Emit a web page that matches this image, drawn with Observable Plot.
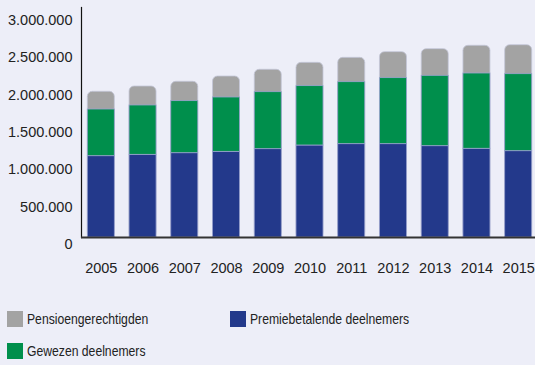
<!DOCTYPE html>
<html>
<head>
<meta charset="utf-8">
<script src="https://cdn.jsdelivr.net/npm/d3@7"></script>
<script src="https://cdn.jsdelivr.net/npm/@observablehq/plot@0.6"></script>
<style>
  html, body { margin: 0; padding: 0; background: #edeef8; }
  #wrap { position: relative; width: 535px; height: 365px; overflow: hidden; }
  #chart { position: absolute; left: 0; top: 0; }
  .lg { position: absolute; display: flex; align-items: center; font-family: "Liberation Sans", Arial, sans-serif; font-size: 14.5px; color: #222; white-space: nowrap; }
  .lg span { display: inline-block; transform: scaleX(0.84); transform-origin: left center; }
  .sw { width: 16px; height: 16px; margin-right: 4px; flex: none; }
</style>
</head>
<body>
<div id="wrap">
  <div id="chart"></div>
</div>
<script>
const years = ["2005","2006","2007","2008","2009","2010","2011","2012","2013","2014","2015"];
const premiebetalend = [1089000,1107000,1129000,1147000,1183000,1232000,1250000,1250000,1223000,1188000,1156000];
const gewezen = [625000,661000,697000,728000,763000,795000,830000,884000,942000,1008000,1031000];
const pensioen = [237000,254000,259000,281000,300000,312000,326000,348000,357000,371000,388000];
const yTicks = [0,500000,1000000,1500000,2000000,2500000,3000000];
const seriesNames = ["Premiebetalende deelnemers","Gewezen deelnemers","Pensioengerechtigden"];
const seriesColors = ["#23398b","#008f4c","#a3a3a3"];

const long = [];
years.forEach((y, i) => {
  long.push({year: y, series: seriesNames[0], value: premiebetalend[i]});
  long.push({year: y, series: seriesNames[1], value: gewezen[i]});
});
const totals = years.map((y, i) => ({year: y, total: premiebetalend[i] + gewezen[i] + pensioen[i]}));

const nl = d3.formatLocale({decimal: ",", thousands: ".", grouping: [3], currency: ["€", ""]});
const fmt = nl.format(",");

const chart = Plot.plot({
  width: 535,
  height: 290,
  marginLeft: 81,
  marginRight: 0,
  marginTop: 7,
  marginBottom: 53,
  style: {background: "transparent", overflow: "visible"},
  x: {type: "band", domain: years, range: [81, 538], round: false, paddingInner: 0.353, paddingOuter: 0.151},
  y: {domain: [0, 3080000]},
  color: {domain: seriesNames, range: seriesColors},
  marks: [
    Plot.barY(totals, {x: "year", y: "total", fill: seriesColors[2], rx: 5, stroke: "#c4c6d8", strokeWidth: 0.8}),
    Plot.barY(long, {x: "year", y: "value", fill: "series", order: seriesNames, stroke: "#9aa3cf", strokeWidth: 0.8}),
    Plot.axisY({ticks: yTicks, tickFormat: fmt, tickSize: 0, tickPadding: 9, dy: 7,
      fontSize: 14.5, fontFamily: "Arial", fill: "#222", label: null}),
    Plot.axisX({tickSize: 0, tickPadding: 25, fontSize: 14.5,
      fontFamily: "Arial", fill: "#222", label: null}),
    Plot.frame({anchor: "left", stroke: "#111", strokeWidth: 1.2}),
    Plot.ruleY([0], {stroke: "#333", strokeWidth: 2.2})
  ]
});
document.getElementById("chart").appendChild(chart);

const legendItems = [
  {name: seriesNames[2], color: seriesColors[2], left: 7, top: 311},
  {name: seriesNames[0], color: seriesColors[0], left: 230, top: 311},
  {name: seriesNames[1], color: seriesColors[1], left: 7, top: 343}
];
const wrap = document.getElementById("wrap");
legendItems.forEach(it => {
  const d = document.createElement("div");
  d.className = "lg";
  d.style.left = it.left + "px";
  d.style.top = it.top + "px";
  const s = document.createElement("div");
  s.className = "sw";
  s.style.background = it.color;
  const t = document.createElement("span");
  t.textContent = it.name;
  d.appendChild(s);
  d.appendChild(t);
  wrap.appendChild(d);
});
</script>
</body>
</html>
